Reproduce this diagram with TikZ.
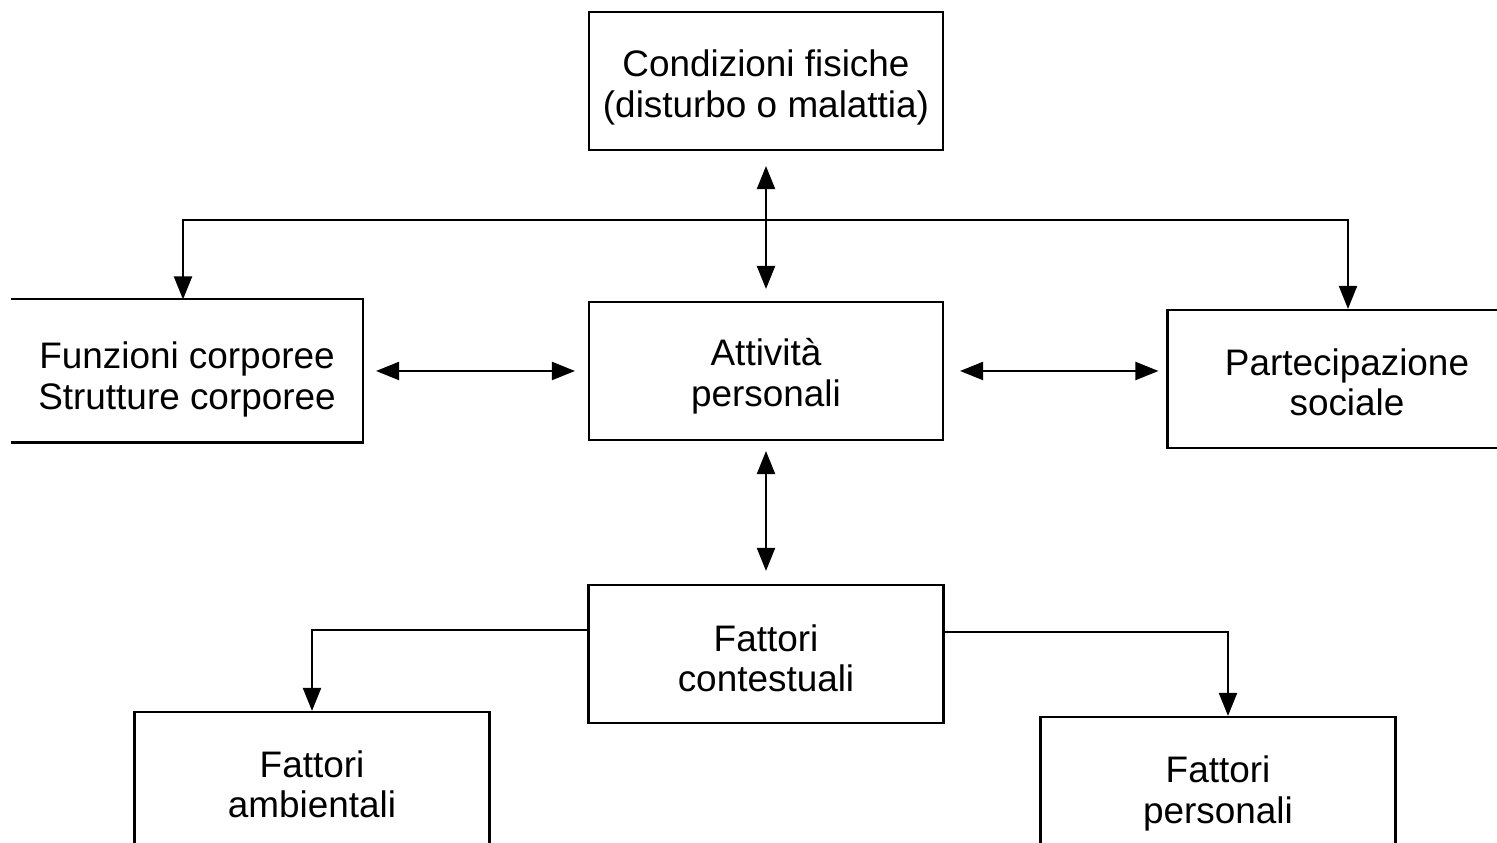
\documentclass[tikz,border=0pt]{standalone}
\usepackage{fontspec}
\setmainfont{Liberation Sans}
\usetikzlibrary{arrows.meta}
\newcommand{\lift}[1]{\rule{0pt}{#1}}

\begin{document}
\begin{tikzpicture}[font=\fontsize{10.5}{11.6}\selectfont, line width=0.6pt,
  box/.style={draw, align=center, inner sep=0pt, minimum width=3.54cm, minimum height=1.38cm},
  openbox/.style={box, draw=none, minimum width=3.5cm, minimum height=1.41cm},
  tip/.style={-{Triangle[length=0.23cm, width=0.18cm]}},
  dbl/.style={{Triangle[length=0.23cm, width=0.18cm]}-{Triangle[length=0.23cm, width=0.18cm]}}]
\useasboundingbox (0cm, 0cm) rectangle (14.97cm, 8.43cm);
\clip (0cm, 0cm) rectangle (14.97cm, 8.43cm);

\node[box] (cond) at (7.66cm, 7.62cm) {\lift{11.2pt}Condizioni fisiche\\(disturbo o malattia)};
\node[box] (attiv) at (7.66cm, 4.72cm) {\lift{10.6pt}Attività\\personali};
\node[openbox] (funz) at (1.87cm, 4.72cm) {\lift{12.3pt}Funzioni corporee\\Strutture corporee};
\draw (funz.north west) -- (funz.north east) -- (funz.south east) -- (funz.south west);
\node[box, minimum width=3.59cm] (partec) at (13.47cm, 4.64cm) {\lift{9.5pt}Partecipazione\\sociale};
\node[box, minimum width=3.55cm] (contest) at (7.66cm, 1.89cm) {\lift{10.1pt}Fattori\\contestuali};
\node[box, minimum width=3.55cm] (amb) at (3.12cm, 0.62cm) {\lift{9.5pt}Fattori\\ambientali};
\node[box, minimum width=3.55cm] (pers) at (12.18cm, 0.57cm) {\lift{11.8pt}Fattori\\personali};

\coordinate (barl) at (1.83cm, 6.23cm);
\coordinate (barr) at (13.48cm, 6.23cm);
\coordinate (ctl) at (3.12cm, 2.13cm);
\coordinate (ctr) at (12.28cm, 2.11cm);

\draw[dbl, shorten <=0.15cm, shorten >=0.12cm] (cond.south) -- (attiv.north);
\draw[dbl] (funz.north -| barl) -- (barl) -- (barr) -- (partec.north -| barr);
\draw[dbl, shorten <=0.13cm, shorten >=0.13cm] (funz.east) -- (attiv.west);
\draw[dbl, shorten <=0.16cm, shorten >=0.08cm] (attiv.east) -- (attiv.east -| partec.west);
\draw[dbl, shorten <=0.1cm, shorten >=0.13cm] (attiv.south) -- (contest.north);
\draw[tip] (contest.west |- ctl) -- (ctl) -- (amb.north);
\draw[tip] (contest.east |- ctr) -- (ctr) -- (ctr |- pers.north);

\end{tikzpicture}
\end{document}
